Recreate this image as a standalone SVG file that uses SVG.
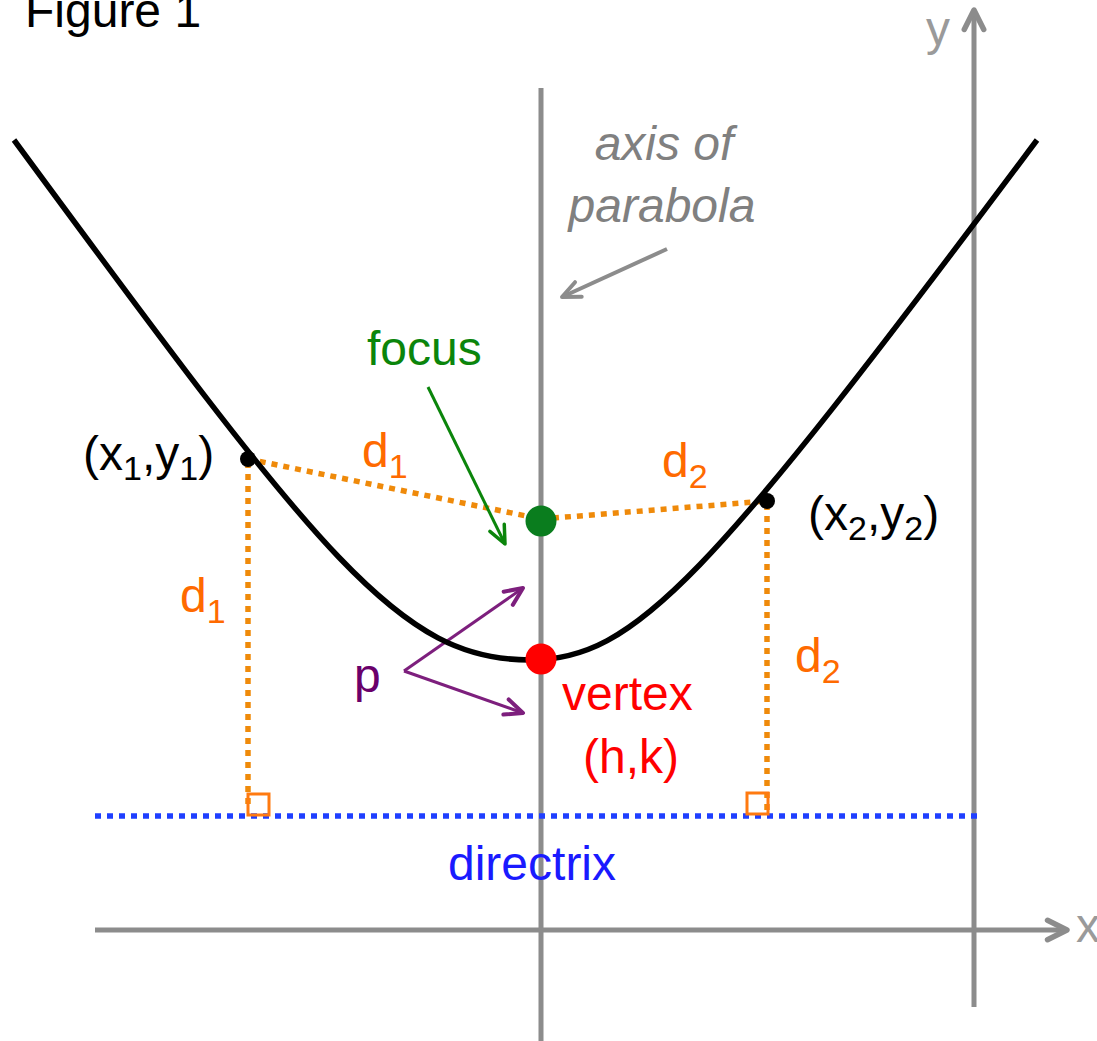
<svg xmlns="http://www.w3.org/2000/svg" width="1097" height="1041" viewBox="0 0 1097 1041">
<style>
text{font-family:"Liberation Sans",Arial,sans-serif;font-size:48px}
.ax{stroke:#8c8c8c;stroke-width:5;fill:none}
.dot{stroke:#ef8a0a;stroke-width:5.5;stroke-dasharray:6 6;fill:none}
.sub{font-size:34px}
.or{fill:#ff6a00}
.sq{fill:none;stroke:#ff7a10;stroke-width:3}
</style>
<defs>
<marker id="mg" viewBox="0 0 24 24" refX="21" refY="12" markerWidth="26" markerHeight="26" markerUnits="userSpaceOnUse" orient="auto"><path d="M3,3 L21,12 L3,21" fill="none" stroke="#8c8c8c" stroke-width="5" stroke-linecap="round" stroke-linejoin="round"/></marker>
<marker id="mg2" viewBox="0 0 24 24" refX="21" refY="12" markerWidth="24" markerHeight="24" markerUnits="userSpaceOnUse" orient="auto"><path d="M3,4 L21,12 L3,20" fill="none" stroke="#8c8c8c" stroke-width="4" stroke-linecap="round" stroke-linejoin="round"/></marker>
<marker id="mgr" viewBox="0 0 24 24" refX="21" refY="12" markerWidth="24" markerHeight="24" markerUnits="userSpaceOnUse" orient="auto"><path d="M3,4 L21,12 L3,20" fill="none" stroke="#0b850b" stroke-width="3.5" stroke-linecap="round" stroke-linejoin="round"/></marker>
<marker id="mp" viewBox="0 0 24 24" refX="21" refY="12" markerWidth="24" markerHeight="24" markerUnits="userSpaceOnUse" orient="auto"><path d="M3,4 L21,12 L3,20" fill="none" stroke="#7d1f7d" stroke-width="4" stroke-linecap="round" stroke-linejoin="round"/></marker>
</defs>
<rect width="1097" height="1041" fill="#fff"/>
<g id="axes">
<line class="ax" x1="541" y1="88" x2="541" y2="1041"/>
<line class="ax" x1="974" y1="1007" x2="974" y2="10" marker-end="url(#mg)"/>
<line class="ax" x1="95" y1="930" x2="1067" y2="930" marker-end="url(#mg)"/>
<text x="926" y="45" fill="#9a9a9a" font-size="44">y</text>
<text x="1076" y="942" fill="#9a9a9a" font-size="44">x</text>
</g>
<g id="title"><text x="25" y="27" fill="#000">Figure 1</text></g>
<g id="connectors">
<line class="dot" x1="248" y1="459" x2="541" y2="519"/>
<line class="dot" x1="541" y1="519" x2="767" y2="501"/>
<line class="dot" x1="248" y1="462" x2="248" y2="810"/>
<line class="dot" x1="767" y1="504" x2="767" y2="810"/>
<line x1="95" y1="816" x2="982" y2="816" stroke="#1f3fff" stroke-width="5.5" stroke-dasharray="6 6"/>
<rect class="sq" x="248" y="794" width="21" height="21"/>
<rect class="sq" x="747" y="793" width="21" height="21"/>
<line x1="667" y1="249" x2="562" y2="297" stroke="#8c8c8c" stroke-width="4" marker-end="url(#mg2)"/>
<line x1="428" y1="387" x2="505" y2="544" stroke="#0b850b" stroke-width="3" marker-end="url(#mgr)"/>
<line x1="404" y1="671" x2="523" y2="588" stroke="#7d1f7d" stroke-width="3" marker-end="url(#mp)"/>
<line x1="404" y1="671" x2="523" y2="713" stroke="#7d1f7d" stroke-width="3" marker-end="url(#mp)"/>
</g>
<g id="parabola">
<path d="M14,140 C323,560 400,660 530,660 C635,660 708,580 1037,140" fill="none" stroke="#000" stroke-width="5.5"/>
</g>
<g id="point1"><circle cx="248" cy="459" r="8" fill="#000"/>
<text x="83" y="470">(x<tspan class="sub" dy="10">1</tspan><tspan dy="-10">,y</tspan><tspan class="sub" dy="10">1</tspan><tspan dy="-10">)</tspan></text></g>
<g id="point2"><circle cx="767" cy="501" r="8" fill="#000"/>
<text x="808" y="530">(x<tspan class="sub" dy="10">2</tspan><tspan dy="-10">,y</tspan><tspan class="sub" dy="10">2</tspan><tspan dy="-10">)</tspan></text></g>
<g id="focus"><circle cx="541" cy="521" r="15.5" fill="#0a7d1e"/>
<text x="367" y="365" fill="#0b850b">focus</text></g>
<g id="vertex"><circle cx="541" cy="659" r="15.5" fill="#ff0000"/>
<text x="562" y="710" fill="#ff0000">vertex</text>
<text x="583" y="773" fill="#ff0000">(h,k)</text></g>
<g id="axislabel"><text x="664" y="160" fill="#808080" font-style="italic" text-anchor="middle">axis of</text>
<text x="662" y="222" fill="#808080" font-style="italic" text-anchor="middle">parabola</text></g>
<g id="labels">
<text class="or" x="362" y="467">d<tspan class="sub" dy="11">1</tspan></text>
<text class="or" x="662" y="477">d<tspan class="sub" dy="11">2</tspan></text>
<text class="or" x="180" y="612">d<tspan class="sub" dy="11">1</tspan></text>
<text class="or" x="795" y="672">d<tspan class="sub" dy="11">2</tspan></text>
<text x="354" y="692" fill="#6a006a">p</text>
</g>
<g id="directrix"><text x="448" y="880" fill="#1a1aff">directrix</text></g>
</svg>
